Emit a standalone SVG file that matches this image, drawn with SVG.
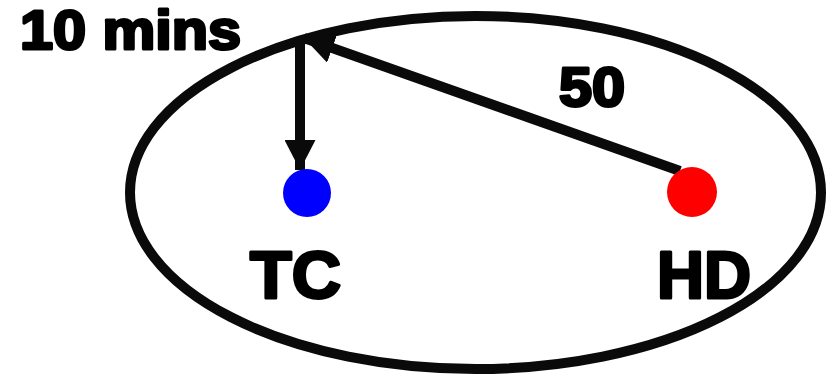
<svg xmlns="http://www.w3.org/2000/svg" width="837" height="378" viewBox="0 0 837 378">
<style>
.lbl{font-family:"Liberation Sans",Arial,sans-serif;font-weight:bold;fill:#000;stroke:#000;stroke-width:3;stroke-linejoin:round}
.edge{stroke:#0a0a0a;stroke-width:10;fill:none}
</style>
<defs>
<marker id="ah" viewBox="0 0 30 31" refX="30" refY="15.5" markerWidth="3" markerHeight="3.1" orient="auto" markerUnits="strokeWidth">
<path d="M0,0 L30,15.5 L0,31 z" fill="#0a0a0a"/>
</marker>
</defs>
<rect width="837" height="378" fill="#fff"/>
<g id="region">
<ellipse cx="475.5" cy="192.5" rx="345.5" ry="176.5" fill="none" stroke="#0a0a0a" stroke-width="10"/>
</g>
<g id="connectors">
<line class="edge" x1="300" y1="40" x2="300" y2="170" marker-end="url(#ah)"/>
<line class="edge" x1="680" y1="171" x2="304" y2="38" marker-end="url(#ah)"/>
</g>
<g id="TC">
<circle cx="307" cy="193" r="24" fill="#0000ff"/>
<text class="lbl" x="250" y="298" font-size="66" textLength="91" lengthAdjust="spacingAndGlyphs">TC</text>
</g>
<g id="HD">
<circle cx="692" cy="192" r="25" fill="#ff0000"/>
<text class="lbl" x="657" y="298" font-size="66" textLength="94" lengthAdjust="spacingAndGlyphs">HD</text>
</g>
<g id="labels">
<text class="lbl" x="20" y="49" font-size="55" textLength="221" lengthAdjust="spacingAndGlyphs">10 mins</text>
<text class="lbl" x="559" y="106" font-size="55" textLength="66" lengthAdjust="spacingAndGlyphs">50</text>
</g>
</svg>
